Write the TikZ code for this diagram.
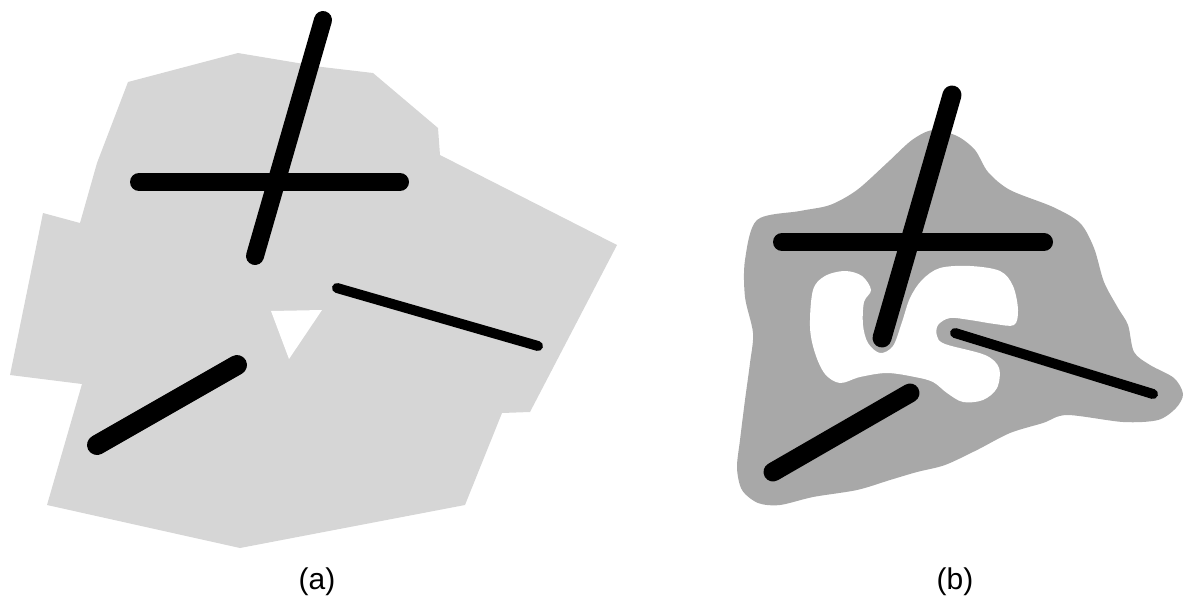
\documentclass[tikz,border=0pt]{standalone}
\usepackage{fontspec}
\setmainfont{Liberation Sans}
\definecolor{regionA}{RGB}{214,214,214}
\definecolor{regionB}{RGB}{168,168,168}

\begin{document}
\begin{tikzpicture}[x=1pt,y=-1pt,
    rod/.style={line width=#1, line cap=round},
    caption/.style={font=\fontsize{30}{32}\selectfont}]
    \useasboundingbox (0,0) rectangle (1185,600);

    % Polygonal region (a)
    \fill[regionA] (128,82) -- (238,53) -- (322,67) -- (373,73) -- (438,128)
        -- (440,155) -- (617,245) -- (530,412) -- (502,413) -- (465,505)
        -- (240,548) -- (47,505) -- (82,384) -- (10,375) -- (43,213)
        -- (80,223) -- (97,163) -- cycle;
    \fill[white] (271,311) -- (322,310) -- (289,359) -- cycle;

    % Segments (a)
    \draw[rod=18pt] (323,20) -- (255,256);
    \draw[rod=18pt] (139,182) -- (400,182);
    \draw[rod=10pt] (337,288) -- (538,346);
    \draw[rod=20pt] (97,445) -- (237,365);

    % Smooth region (b) with its hole
    \fill[regionB] plot[smooth cycle] coordinates {
        (933,130) (957,136) (975,150) (988,172) (1010,190) (1053,207)
        (1080,223) (1094,248) (1104,282) (1118,308) (1128,325) (1134,352)
        (1150,365) (1174,378) (1183,394) (1176,408) (1158,420) (1123,422)
        (1067,415) (1043,423) (1010,433) (977,450) (945,465) (917,472)
        (890,480) (857,490) (813,497) (780,505) (758,503) (742,490)
        (737,468) (740,440) (745,400) (750,363) (753,333) (745,297)
        (745,260) (757,220) (800,211) (830,205) (857,190) (887,163)
        (912,140)};
    \fill[white] plot[smooth cycle, tension=0.55] coordinates {
        (813,290) (825,276) (845,271) (862,276) (871,290) (864,302)
        (863,325) (868,343) (880,353) (893,346) (902,322) (910,298)
        (922,280) (940,268) (970,266) (1000,271) (1013,286) (1018,310)
        (1014,325) (995,324) (970,320) (950,318) (938,325) (937,336)
        (945,344) (985,355) (999,368) (997,388) (983,400) (963,402)
        (947,393) (933,382) (915,377) (887,373) (860,377) (840,383)
        (825,374) (815,353) (810,327)};

    % Segments (b)
    \draw[rod=19pt] (952,95) -- (882,338);
    \draw[rod=18pt] (782,242) -- (1044,242);
    \draw[rod=10pt] (955,333) -- (1153,394);
    \draw[rod=19pt] (773,472) -- (910,393);

    % Labels
    \node[caption] (capa) at (317,582) {(a)};
    \node[caption] (capb) at (955,582) {(b)};
\end{tikzpicture}
\end{document}
